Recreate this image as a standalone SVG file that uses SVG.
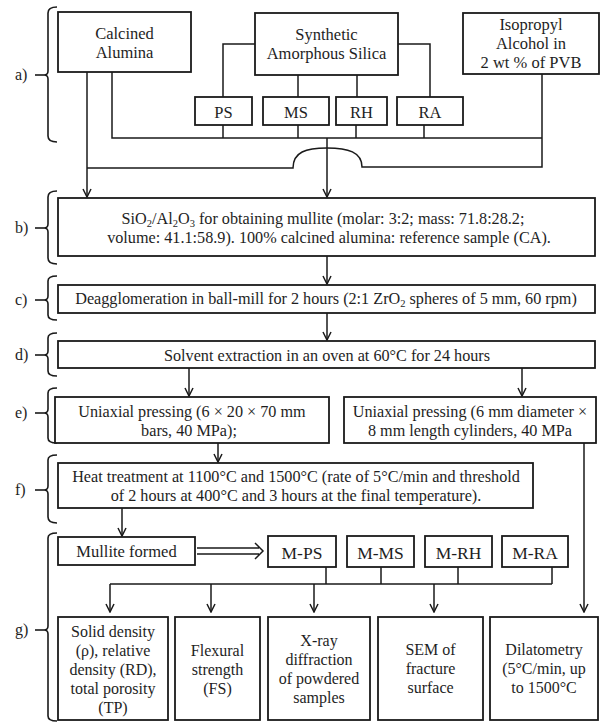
<svg xmlns="http://www.w3.org/2000/svg" width="603" height="724" viewBox="0 0 603 724">
<defs>
<style>
text{font-family:'Liberation Serif','DejaVu Serif',serif;font-size:16px;fill:#1e1e1e;text-anchor:middle}
.box{fill:#fff;stroke:#1a1a1a;stroke-width:1.8}
.ln{fill:none;stroke:#1a1a1a;stroke-width:1.5}
.br{fill:none;stroke:#1a1a1a;stroke-width:1.6}
.lbl{text-anchor:start}
.p{font-size:16.2px}
.t{font-size:16.5px}
.m{font-size:17.5px}
.sub{font-size:10.5px}
</style>
<marker id="ah" viewBox="0 0 10 10" refX="9" refY="5" markerWidth="10" markerHeight="10" markerUnits="userSpaceOnUse" orient="auto">
<path d="M1,1 L9,5 L1,9" fill="none" stroke="#1a1a1a" stroke-width="1.5"/>
</marker>
</defs>
<rect width="603" height="724" fill="#fff"/>
<g font-family="Liberation Serif, DejaVu Serif, serif">
<g id="brackets">
<path class="br" d="M57,7 Q48,7 48,13 L48,71 Q48,75 44,75 Q48,75 48,79 L48,136 Q48,142 57,142"/><line class="br" x1="35" y1="75" x2="44" y2="75"/>
<text class="lbl" x="15" y="80">a)</text>
<path class="br" d="M57,191 Q48,191 48,197 L48,224 Q48,228 44,228 Q48,228 48,232 L48,258 Q48,264 57,264"/><line class="br" x1="35" y1="228" x2="44" y2="228"/>
<text class="lbl" x="15" y="233">b)</text>
<path class="br" d="M57,276 Q48,276 48,281 L48,296 Q48,300 44,300 Q48,300 48,304 L48,315 Q48,320 57,320"/><line class="br" x1="35" y1="300" x2="44" y2="300"/>
<text class="lbl" x="15" y="305">c)</text>
<path class="br" d="M57,333 Q48,333 48,338 L48,351 Q48,355 44,355 Q48,355 48,359 L48,371 Q48,376 57,376"/><line class="br" x1="35" y1="355" x2="44" y2="355"/>
<text class="lbl" x="15" y="360">d)</text>
<path class="br" d="M57,388 Q48,388 48,393 L48,409 Q48,413 44,413 Q48,413 48,417 L48,438 Q48,443 57,443"/><line class="br" x1="35" y1="413" x2="44" y2="413"/>
<text class="lbl" x="15" y="418">e)</text>
<path class="br" d="M57,455 Q48,455 48,460 L48,486 Q48,490 44,490 Q48,490 48,494 L48,517 Q48,523 57,523"/><line class="br" x1="35" y1="490" x2="44" y2="490"/>
<text class="lbl" x="15" y="495">f)</text>
<path class="br" d="M57,533 Q48,533 48,538 L48,626 Q48,630 44,630 Q48,630 48,634 L48,716 Q48,721 57,721"/><line class="br" x1="35" y1="630" x2="44" y2="630"/>
<text class="lbl" x="15" y="635">g)</text>
</g>

<g id="connectors">
<path class="ln" d="M87,72 V197" marker-end="url(#ah)"/>
<path class="ln" d="M112,72 V138 H542"/>
<path class="ln" d="M255,44 H223 V97"/>
<path class="ln" d="M398,44 H430 V97"/>
<path class="ln" d="M298,75 V97"/>
<path class="ln" d="M357,75 V97"/>
<path class="ln" d="M223,125 V138 M298,125 V138 M356,125 V138 M424,125 V138"/>
<path class="ln" d="M327,138 V197" marker-end="url(#ah)"/>
<path class="ln" d="M87,168 H293 C293,152 306,148 327,148 C348,148 362,152 362,167 H542 V74"/>
<path class="ln" d="M327,256 V284" marker-end="url(#ah)"/>
<path class="ln" d="M327,313 V340" marker-end="url(#ah)"/>
<path class="ln" d="M189,368 V396" marker-end="url(#ah)"/>
<path class="ln" d="M522,368 V396" marker-end="url(#ah)"/>
<path class="ln" d="M218,443 V462" marker-end="url(#ah)"/>
<path class="ln" d="M584,443 V612" marker-end="url(#ah)"/>
<path class="ln" d="M122,508 V536" marker-end="url(#ah)"/>
<path class="ln" d="M197,548 H259 M197,554 H259 M255,543 L263,551 L255,559"/>
<path class="ln" d="M326,567 V584 M381,567 V584 M458,567 V584 M552,567 V584 M110,584 H552"/>
<path class="ln" d="M110,584 V612" marker-end="url(#ah)"/>
<path class="ln" d="M211,584 V612" marker-end="url(#ah)"/>
<path class="ln" d="M314,584 V612" marker-end="url(#ah)"/>
<path class="ln" d="M434,584 V612" marker-end="url(#ah)"/>
</g>

<g id="calcined-alumina"><rect class="box" x="58" y="12" width="133" height="60"/><text class="t" x="124.5" y="39">Calcined</text><text class="t" x="124.5" y="58">Alumina</text></g>
<g id="synthetic-silica"><rect class="box" x="255" y="13" width="143" height="62"/><text class="t" x="326.5" y="40">Synthetic</text><text class="t" x="326.5" y="59">Amorphous Silica</text></g>
<g id="isopropyl"><rect class="box" x="463" y="13" width="136" height="61"/><text class="t" x="531" y="30">Isopropyl</text><text class="t" x="531" y="49">Alcohol in</text><text class="t" x="531" y="68">2 wt % of PVB</text></g>
<g id="ps"><rect class="box" x="195" y="97" width="57" height="28"/><text class="t" x="223.5" y="118">PS</text></g>
<g id="ms"><rect class="box" x="263" y="97" width="66" height="28"/><text class="t" x="296" y="118">MS</text></g>
<g id="rh"><rect class="box" x="336" y="97" width="51" height="28"/><text class="t" x="361.5" y="118">RH</text></g>
<g id="ra"><rect class="box" x="397" y="97" width="66" height="28"/><text class="t" x="430" y="118">RA</text></g>

<g id="b-box"><rect class="box" x="58" y="198" width="537" height="58"/>
<text class="p" x="323" y="224">SiO<tspan class="sub" dy="3">2</tspan><tspan dy="-3">/Al</tspan><tspan class="sub" dy="3">2</tspan><tspan dy="-3">O</tspan><tspan class="sub" dy="3">3</tspan><tspan dy="-3"> for obtaining mullite (molar: 3:2; mass: 71.8:28.2;</tspan></text>
<text class="p" x="329" y="243">volume: 41.1:58.9). 100% calcined alumina: reference sample (CA).</text></g>
<g id="c-box"><rect class="box" x="58" y="285" width="537" height="28"/>
<text class="p" x="326" y="304">Deagglomeration in ball-mill for 2 hours (2:1 ZrO<tspan class="sub" dy="3">2</tspan><tspan dy="-3"> spheres of 5 mm, 60 rpm)</tspan></text></g>
<g id="d-box"><rect class="box" x="58" y="341" width="537" height="27"/><text class="p" x="327" y="361">Solvent extraction in an oven at 60°C for 24 hours</text></g>
<g id="e-left"><rect class="box" x="55" y="397" width="274" height="46"/><text class="p" x="192" y="417">Uniaxial pressing (6 × 20 × 70 mm</text><text class="p" x="189" y="436">bars, 40 MPa);</text></g>
<g id="e-right"><rect class="box" x="344" y="397" width="252" height="46"/><text class="p" x="470" y="417">Uniaxial pressing (6 mm diameter ×</text><text class="p" x="470" y="436">8 mm length cylinders, 40 MPa</text></g>
<g id="f-box"><rect class="box" x="58" y="463" width="475" height="45"/><text class="p" x="296" y="482">Heat treatment at 1100°C and 1500°C (rate of 5°C/min and threshold</text><text class="p" x="296" y="501">of 2 hours at 400°C and 3 hours at the final temperature).</text></g>

<g id="mullite-formed"><rect class="box" x="58" y="537" width="137" height="28"/><text class="t" x="126.5" y="557">Mullite formed</text></g>
<g id="m-ps"><rect class="box" x="268" y="536" width="68" height="31"/><text class="m" x="302" y="559">M-PS</text></g>
<g id="m-ms"><rect class="box" x="347" y="536" width="67" height="31"/><text class="m" x="380.5" y="559">M-MS</text></g>
<g id="m-rh"><rect class="box" x="425" y="536" width="67" height="31"/><text class="m" x="458.5" y="559">M-RH</text></g>
<g id="m-ra"><rect class="box" x="502" y="536" width="66" height="31"/><text class="m" x="535" y="559">M-RA</text></g>

<g id="density"><rect class="box" x="58" y="617" width="110" height="103"/><text x="113" y="637">Solid density</text><text x="113" y="656">(ρ), relative</text><text x="113" y="675">density (RD),</text><text x="113" y="694">total porosity</text><text x="113" y="713">(TP)</text></g>
<g id="flexural"><rect class="box" x="175" y="617" width="85" height="103"/><text x="217.5" y="656">Flexural</text><text x="217.5" y="675">strength</text><text x="217.5" y="694">(FS)</text></g>
<g id="xray"><rect class="box" x="268" y="617" width="102" height="103"/><text x="319" y="646">X-ray</text><text x="319" y="665">diffraction</text><text x="319" y="684">of powdered</text><text x="319" y="703">samples</text></g>
<g id="sem"><rect class="box" x="378" y="617" width="105" height="103"/><text x="430.5" y="655">SEM of</text><text x="430.5" y="674">fracture</text><text x="430.5" y="693">surface</text></g>
<g id="dilatometry"><rect class="box" x="490" y="617" width="108" height="103"/><text x="544" y="655">Dilatometry</text><text x="544" y="674">(5°C/min, up</text><text x="544" y="693">to 1500°C</text></g>
</g>
</svg>
